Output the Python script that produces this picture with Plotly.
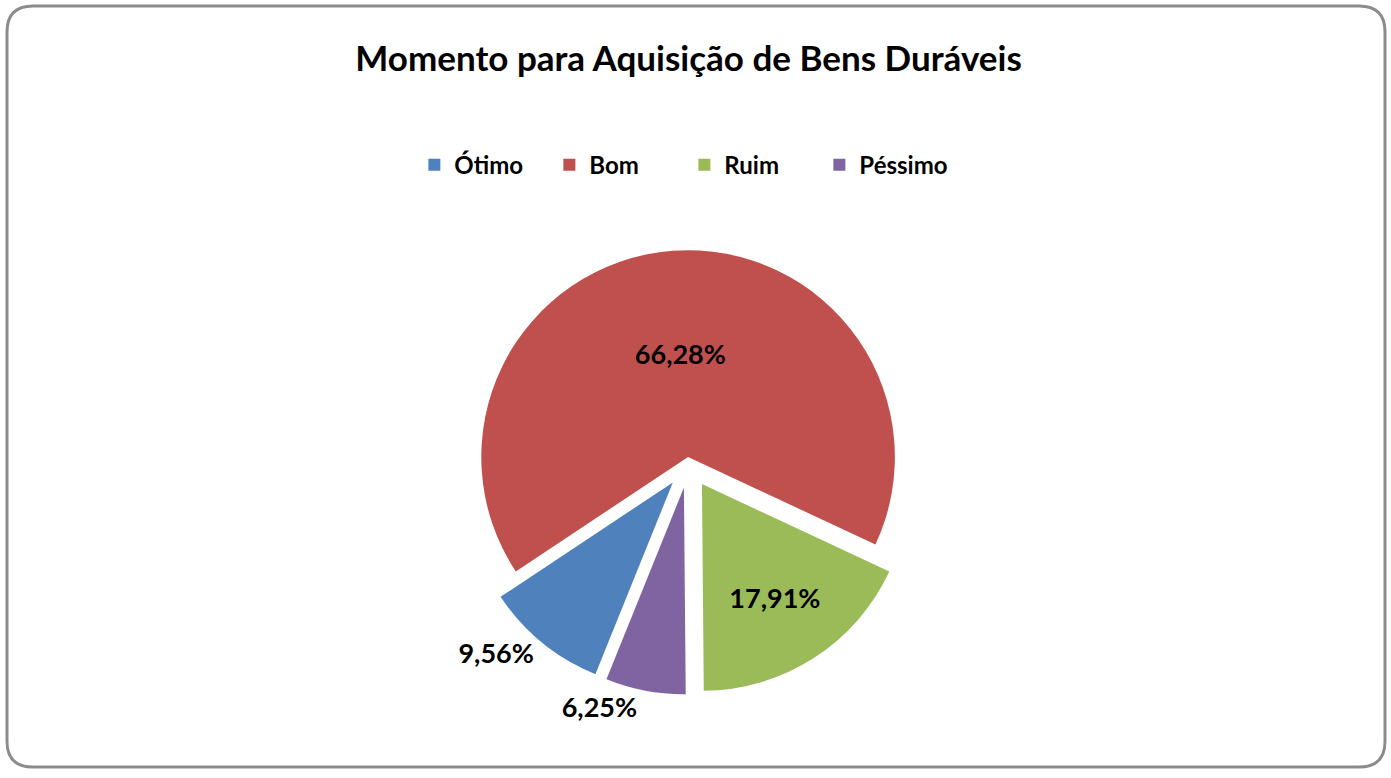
import plotly.graph_objects as go

categories = ["Ótimo", "Bom", "Ruim", "Péssimo"]
values = [9.56, 66.28, 17.91, 6.25]
labels_text = ["9,56%", "66,28%", "17,91%", "6,25%"]
colors = ["#4F81BD", "#C0504D", "#9BBB59", "#8064A2"]

FONT = "Lato, 'Open Sans', sans-serif"

fig = go.Figure()
fig.add_trace(go.Pie(
    labels=categories,
    values=values,
    text=labels_text,
    textinfo="text",
    textposition=["outside", "inside", "inside", "outside"],
    insidetextorientation="horizontal",
    textfont=dict(family=FONT, size=27, color="black", weight="bold"),
    marker=dict(colors=colors, line=dict(color="white", width=0)),
    pull=[0.12, 0.03, 0.12, 0.12],
    sort=False,
    direction="clockwise",
    rotation=202,
    domain=dict(x=[0.30, 0.69], y=[0.10, 0.70]),
    hole=0,
))

W, H = 1391, 778
x0, x1 = 7 / W, 1385 / W
y0, y1 = 1 - 773 / H, 1 - 6 / H
rx, ry = 26 / W, 26 / H
path = (f"M {x0+rx},{y1} L {x1-rx},{y1} Q {x1},{y1} {x1},{y1-ry} "
        f"L {x1},{y0+ry} Q {x1},{y0} {x1-rx},{y0} "
        f"L {x0+rx},{y0} Q {x0},{y0} {x0},{y0+ry} "
        f"L {x0},{y1-ry} Q {x0},{y1} {x0+rx},{y1} Z")

fig.update_layout(
    width=W, height=H,
    margin=dict(l=0, r=0, t=0, b=0),
    paper_bgcolor="white",
    plot_bgcolor="white",
    title=dict(text="<b>Momento para Aquisição de Bens Duráveis</b>",
               x=0.495, xanchor="center", y=0.925, yanchor="middle",
               font=dict(family=FONT, size=35, color="black")),
    legend=dict(orientation="h", x=0.492, xanchor="center", y=0.786, yanchor="middle",
                font=dict(family=FONT, size=24, color="black", weight="bold"),
                entrywidth=90, entrywidthmode="pixels", traceorder="normal"),
    shapes=[dict(type="path", path=path, xref="paper", yref="paper",
                 line=dict(color="#8C8C8C", width=3), fillcolor="rgba(0,0,0,0)", layer="above")],
)

post = (
    "document.body.style.margin='0';"
    "document.body.style.overflow='hidden';"
    "var gd=document.getElementById('{plot_id}');"
    "gd.style.width='1391px';gd.style.height='778px';"
    "Plotly.relayout(gd,{width:1391,height:778});"
)

fig.write_html(
    "out.html",
    config={"displayModeBar": False, "responsive": False},
    post_script=post,
)
